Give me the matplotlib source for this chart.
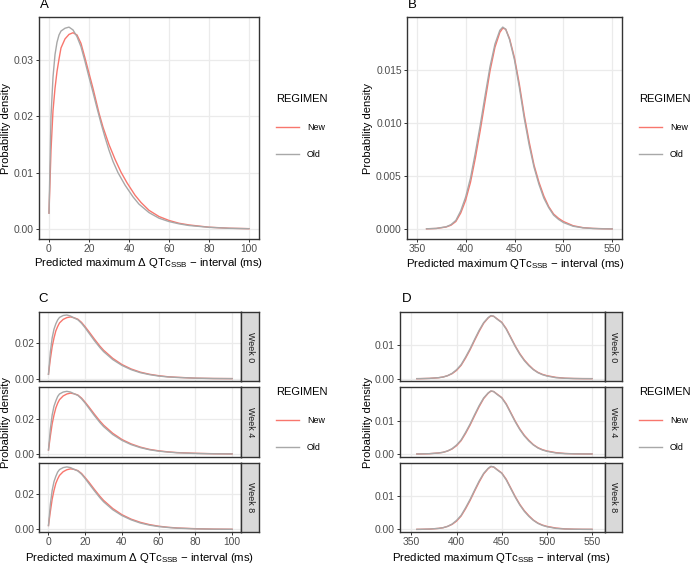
import numpy as np
import matplotlib
matplotlib.use("Agg")
import matplotlib.pyplot as plt
from matplotlib.lines import Line2D

plt.rcParams["font.family"] = ["Liberation Sans", "DejaVu Sans"]
plt.rcParams["mathtext.fontset"] = "custom"
plt.rcParams["mathtext.rm"] = "Liberation Sans"
plt.rcParams["mathtext.it"] = "Liberation Sans:italic"

# ---- data ----
# panel A: delta QTc, pooled
a_x_new = [0, 1, 2, 3, 4, 5, 6, 8, 10, 12, 14, 16, 18, 20, 22, 25, 27, 30, 33, 36,
           39, 43, 46, 50, 55, 60, 65, 70, 80, 90, 100]
a_new = [0.0028, 0.014, 0.021, 0.025, 0.028, 0.0302, 0.0322, 0.0338, 0.0346, 0.0349,
         0.0345, 0.0330, 0.0304, 0.0277, 0.0250, 0.0206, 0.0181, 0.0150, 0.0124, 0.0101,
         0.0082, 0.0060, 0.0047, 0.0033, 0.0022, 0.0015, 0.0010, 0.0007, 0.0003, 0.00012, 0.00004]
a_x_old = [0, 1, 2, 3, 4, 5, 6, 8, 10, 12, 14, 16, 18, 20, 22, 24, 26, 28, 30, 32,
           34.5, 38, 42, 45, 50, 55, 60, 65, 70, 80, 90, 100]
a_old = [0.0028, 0.020, 0.027, 0.031, 0.0332, 0.0345, 0.0352, 0.0357, 0.0359, 0.0354,
         0.0342, 0.0324, 0.0298, 0.0270, 0.0243, 0.0215, 0.0188, 0.0163, 0.0140, 0.0120,
         0.0100, 0.0078, 0.0057, 0.0044, 0.0029, 0.0019, 0.0013, 0.0009, 0.0006, 0.00028,
         0.0001, 0.00003]

# panel B: absolute QTc, pooled
b_x = [360, 370, 380, 385, 390, 395, 400, 405, 410, 415, 420, 425, 430, 435, 438, 441,
       445, 450, 455, 460, 465, 470, 475, 480, 485, 490, 495, 500, 510, 520, 530, 540, 550]
b_new = [0.00001, 0.00004, 0.00018, 0.00035, 0.0007, 0.0015, 0.0027, 0.0044, 0.0067,
         0.0093, 0.0121, 0.0149, 0.0171, 0.0185, 0.0189, 0.0188, 0.0179, 0.0161, 0.0136,
         0.0107, 0.0082, 0.0060, 0.0044, 0.0031, 0.0021, 0.0014, 0.0010, 0.0007, 0.0003,
         0.00012, 0.00005, 0.00002, 0.0]
b_old = [0.00001, 0.00005, 0.0002, 0.0004, 0.0008, 0.0017, 0.0030, 0.0048, 0.0072,
         0.0098, 0.0126, 0.0153, 0.0174, 0.0187, 0.0190, 0.0188, 0.0178, 0.0159, 0.0133,
         0.0104, 0.0079, 0.0058, 0.0042, 0.0029, 0.0020, 0.0013, 0.0009, 0.0006, 0.00025,
         0.0001, 0.00004, 0.00001, 0.0]

# panel C: delta QTc by week
weeks = ["Week 0", "Week 4", "Week 8"]
c_x = [0, 1, 2, 3, 4, 5, 6, 8, 10, 12, 14, 16, 18, 20, 22, 25, 28, 30, 35, 40,
       45, 50, 55, 60, 65, 70, 80, 90, 100]
c_new_w0 = [0.0025, 0.011, 0.018, 0.023, 0.027, 0.0295, 0.0315, 0.0335, 0.0345, 0.0349,
            0.0344, 0.0336, 0.0318, 0.0293, 0.0266, 0.0224, 0.0184, 0.0161, 0.0115, 0.0080,
            0.0055, 0.0037, 0.0025, 0.0017, 0.0011, 0.0008, 0.0003, 0.00012, 0.00005]
c_old_w0 = [0.0025, 0.015, 0.023, 0.028, 0.031, 0.0332, 0.0346, 0.0357, 0.0360, 0.0354,
            0.0343, 0.0333, 0.0313, 0.0287, 0.0258, 0.0215, 0.0176, 0.0153, 0.0108, 0.0075,
            0.0051, 0.0034, 0.0023, 0.0015, 0.0010, 0.0007, 0.0003, 0.0001, 0.00004]
c_new_w4 = [0.0023, 0.010, 0.017, 0.022, 0.026, 0.0287, 0.0307, 0.0328, 0.0339, 0.0344,
            0.0340, 0.0333, 0.0316, 0.0292, 0.0266, 0.0225, 0.0186, 0.0163, 0.0117, 0.0082,
            0.0057, 0.0039, 0.0026, 0.0018, 0.0012, 0.0008, 0.0004, 0.00015, 0.00006]
c_old_w4 = [0.0023, 0.014, 0.022, 0.027, 0.030, 0.0325, 0.0339, 0.0350, 0.0354, 0.0350,
            0.0340, 0.0331, 0.0312, 0.0287, 0.0259, 0.0217, 0.0178, 0.0155, 0.0110, 0.0077,
            0.0053, 0.0036, 0.0024, 0.0016, 0.0011, 0.0007, 0.0003, 0.00012, 0.00005]
c_new_w8 = [0.0022, 0.010, 0.017, 0.022, 0.026, 0.0285, 0.0305, 0.0326, 0.0337, 0.0342,
            0.0339, 0.0332, 0.0316, 0.0292, 0.0267, 0.0226, 0.0187, 0.0164, 0.0118, 0.0083,
            0.0058, 0.0040, 0.0027, 0.0018, 0.0012, 0.0008, 0.0004, 0.00015, 0.00006]
c_old_w8 = [0.0022, 0.014, 0.022, 0.027, 0.030, 0.0324, 0.0338, 0.0349, 0.0353, 0.0349,
            0.0339, 0.0330, 0.0312, 0.0287, 0.0259, 0.0218, 0.0179, 0.0156, 0.0111, 0.0078,
            0.0054, 0.0036, 0.0024, 0.0016, 0.0011, 0.0007, 0.0003, 0.00012, 0.00005]

# panel D: absolute QTc by week
d_x = [356, 360, 370, 380, 385, 390, 395, 400, 405, 410, 415, 420, 425, 430, 435, 438,
       441, 445, 450, 455, 460, 465, 470, 475, 480, 485, 490, 495, 500, 510, 520, 530, 540, 550]
d_new_w0 = [0.00001, 0.00002, 0.00009, 0.0003, 0.0005, 0.0009, 0.0015, 0.0025, 0.0040,
            0.0062, 0.0087, 0.0115, 0.0142, 0.0166, 0.0182, 0.0188, 0.0187, 0.0179, 0.0169,
            0.0150, 0.0124, 0.0098, 0.0075, 0.0056, 0.0041, 0.0028, 0.0019, 0.0013, 0.0009,
            0.0004, 0.00015, 0.00006, 0.00002, 0.00001]
d_old_w0 = [0.00001, 0.00002, 0.0001, 0.0003, 0.0005, 0.0009, 0.0016, 0.0027, 0.0042,
            0.0065, 0.0090, 0.0118, 0.0145, 0.0168, 0.0183, 0.0189, 0.0187, 0.0178, 0.0168,
            0.0148, 0.0122, 0.0096, 0.0073, 0.0054, 0.0039, 0.0027, 0.0018, 0.0012, 0.0008,
            0.0003, 0.00012, 0.00005, 0.00002, 0.00001]
d_new_w4 = d_new_w0
d_old_w4 = d_old_w0
d_new_w8 = d_new_w0
d_old_w8 = d_old_w0

NEW_COL = "#F8766D"
OLD_COL = "#A8A8A8"
DARK = "#333333"

XLAB_D = "Predicted maximum \u0394 QTc$_{\\mathregular{SSB}}$ \u2212 interval (ms)"
XLAB_A = "Predicted maximum QTc$_{\\mathregular{SSB}}$ \u2212 interval (ms)"

W, H = 696, 564
fig = plt.figure(figsize=(W / 100, H / 100), dpi=100)


def box(l, t, r, b):
    return [l / W, 1 - b / H, (r - l) / W, (b - t) / H]


def ftext(x, y, s, **kw):
    fig.text(x / W, 1 - y / H, s, **kw)


def style(ax, xlim, ylim, xticks, yticks, ylabels, show_x=True):
    ax.set_xlim(xlim)
    ax.set_ylim(ylim)
    ax.set_xticks(xticks)
    ax.set_yticks(yticks)
    ax.set_yticklabels(ylabels)
    ax.grid(True, color="#EBEBEB", lw=0.9)
    ax.set_axisbelow(True)
    for s in ax.spines.values():
        s.set_color(DARK)
        s.set_linewidth(1.0)
    ax.tick_params(color=DARK, length=2.2, width=0.7, labelsize=7.4,
                   labelcolor="#4D4D4D", pad=1.5)
    if not show_x:
        ax.tick_params(axis="x", length=0, labelbottom=False)


def add_legend(ax, x, y):
    handles = [Line2D([], [], color=NEW_COL, lw=1.0), Line2D([], [], color=OLD_COL, lw=1.0)]
    ax.legend(handles, ["New", "Old"], title="REGIMEN", loc="upper left",
              bbox_to_anchor=(x / W, 1 - y / H), bbox_transform=fig.transFigure,
              frameon=False, fontsize=6.4, title_fontsize=8, handlelength=2.6,
              handletextpad=0.9, labelspacing=2.1, borderpad=0, borderaxespad=0,
              alignment="left")


# ---- panel A ----
axA = fig.add_axes(box(39, 17, 259, 239))
axA.plot(a_x_new, a_new, color=NEW_COL, lw=1.0)
axA.plot(a_x_old, a_old, color=OLD_COL, lw=1.0)
style(axA, (-5, 105), (-0.0018, 0.0377), range(0, 101, 20),
      [0, 0.01, 0.02, 0.03], ["0.00", "0.01", "0.02", "0.03"])
ftext(149, 266, XLAB_D, fontsize=8.2, ha="center", va="baseline")
ftext(6, 128, "Probability density", rotation=90, fontsize=8, ha="center", va="center")
add_legend(axA, 276, 94)
ftext(40, 5, "A", fontsize=9.5, va="center", ha="left")

# ---- panel B ----
axB = fig.add_axes(box(407, 17, 622, 239))
axB.plot(b_x, b_new, color=NEW_COL, lw=1.0)
axB.plot(b_x, b_old, color=OLD_COL, lw=1.0)
style(axB, (340, 560), (-0.00095, 0.01995), range(350, 551, 50),
      [0, 0.005, 0.01, 0.015], ["0.000", "0.005", "0.010", "0.015"])
ftext(515, 267, XLAB_A, fontsize=8.2, ha="center", va="baseline")
ftext(368, 128, "Probability density", rotation=90, fontsize=8, ha="center", va="center")
add_legend(axB, 639, 94)
ftext(408, 5, "B", fontsize=9.5, va="center", ha="left")

# ---- panels C and D (faceted by week) ----
facet_tops = [312, 387.3, 462.7]
facet_h = 69.3
c_series = [(c_new_w0, c_old_w0), (c_new_w4, c_old_w4), (c_new_w8, c_old_w8)]
d_series = [(d_new_w0, d_old_w0), (d_new_w4, d_old_w4), (d_new_w8, d_old_w8)]

panels = {
    "C": (39.3, 241.3, 259.3, c_x, c_series, (-5, 105), (-0.00147, 0.03768),
          range(0, 101, 20), [0, 0.02], ["0.00", "0.02"], XLAB_D, 140, 6, 276, 38),
    "D": (399.7, 604.7, 622, d_x, d_series, (337, 564), (-0.00078, 0.01997),
          range(350, 551, 50), [0, 0.01], ["0.00", "0.01"], XLAB_A, 501, 368, 639, 402),
}
for panel, (l, r, sr, xv, series, xlim, ylim, xt, yt, yl, xlab,
            xlab_x, ylab_x, leg_x, tag_x) in panels.items():
    for i, (wk, (yn, yo)) in enumerate(zip(weeks, series)):
        t = facet_tops[i]
        ax = fig.add_axes(box(l, t, r, t + facet_h))
        ax.plot(xv, yn, color=NEW_COL, lw=1.0)
        ax.plot(xv, yo, color=OLD_COL, lw=1.0)
        style(ax, xlim, ylim, xt, yt, yl, show_x=(i == 2))
        sax = fig.add_axes(box(r, t, sr, t + facet_h))
        sax.set_facecolor("#D9D9D9")
        sax.set_xticks([])
        sax.set_yticks([])
        for s in sax.spines.values():
            s.set_color(DARK)
            s.set_linewidth(1.0)
        sax.text(0.5, 0.5, wk, rotation=-90, ha="center", va="center",
                 fontsize=6.4, color="#1A1A1A", transform=sax.transAxes)
        if i == 1:
            add_legend(ax, leg_x, 387)
    ftext(xlab_x, 561, xlab, fontsize=8.2, ha="center", va="baseline")
    ftext(ylab_x, 422, "Probability density", rotation=90, fontsize=8,
          ha="center", va="center")
    ftext(tag_x, 299, panel, fontsize=9.5, va="center", ha="left")

fig.savefig("out.png", dpi=100)
